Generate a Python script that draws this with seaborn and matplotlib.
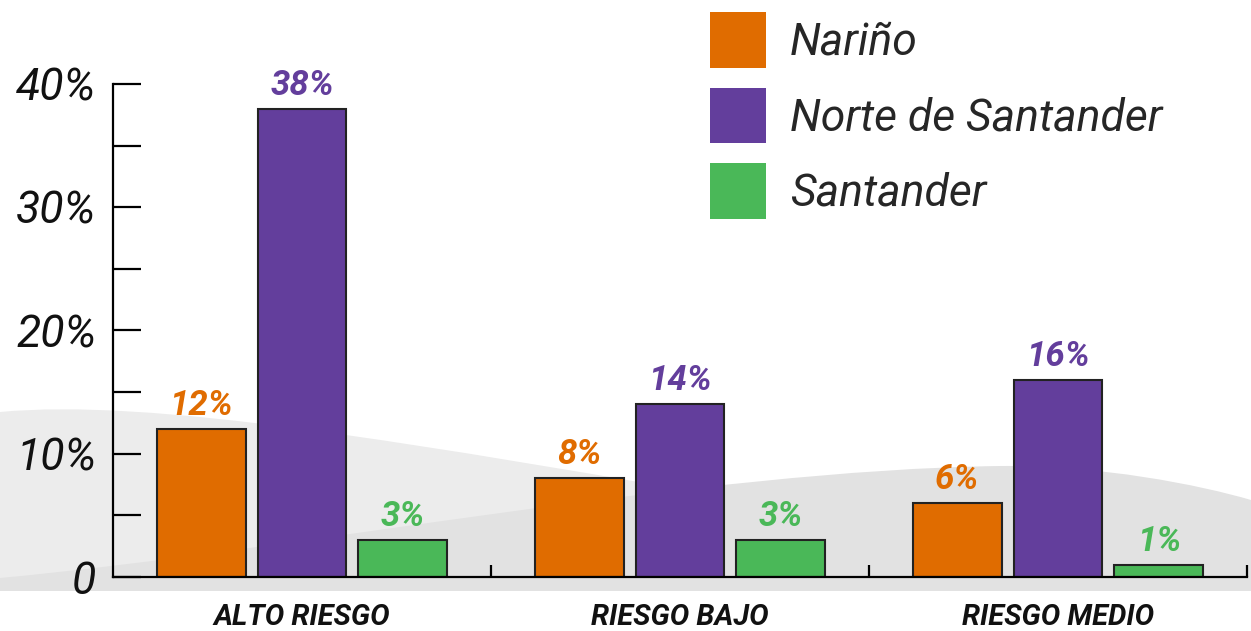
import numpy as np
import pandas as pd
import seaborn as sns
import matplotlib.pyplot as plt
from matplotlib.path import Path
from matplotlib.patches import PathPatch, Patch
from matplotlib.ticker import FixedLocator

# data
categories = ["ALTO RIESGO", "RIESGO BAJO", "RIESGO MEDIO"]
regions = ["Nariño", "Norte de Santander", "Santander"]
narino = [12, 8, 6]
norte = [38, 14, 16]
santander = [3, 3, 1]
colors = ["#E06C00", "#633E9C", "#4AB858"]

df = pd.DataFrame({
    "categoria": categories * 3,
    "region": [regions[0]] * 3 + [regions[1]] * 3 + [regions[2]] * 3,
    "valor": narino + norte + santander,
})

sns.set_theme(style="white")
plt.rcParams['font.family'] = ['Roboto', 'DejaVu Sans']

W, H = 1251, 631
fig = plt.figure(figsize=(W / 100, H / 100), dpi=100)

# decorative grey hills behind the chart (pixel coords)
bg = fig.add_axes([0, 0, 1, 1], zorder=0)
bg.set_xlim(0, W)
bg.set_ylim(H, 0)
bg.axis("off")
light = Path(
    [(0, 591), (0, 412), (150, 398), (400, 440), (800, 510),
     (1000, 540), (1150, 555), (1251, 560), (1251, 591), (0, 591)],
    [Path.MOVETO, Path.LINETO, Path.CURVE4, Path.CURVE4, Path.CURVE4,
     Path.CURVE4, Path.CURVE4, Path.CURVE4, Path.LINETO, Path.CLOSEPOLY])
dark = Path(
    [(0, 591), (0, 578), (300, 550), (700, 470), (1000, 466),
     (1100, 465), (1200, 485), (1251, 500), (1251, 591), (0, 591)],
    [Path.MOVETO, Path.LINETO, Path.CURVE4, Path.CURVE4, Path.CURVE4,
     Path.CURVE4, Path.CURVE4, Path.CURVE4, Path.LINETO, Path.CLOSEPOLY])
bg.add_patch(PathPatch(light, facecolor="#ECECEC", edgecolor="none"))
bg.add_patch(PathPatch(dark, facecolor="#E2E2E2", edgecolor="none"))

ax = fig.add_axes([113 / W, 1 - 577 / H, (1247 - 113) / W, (577 - 10) / H], zorder=1)
ax.set_facecolor("none")

sns.barplot(data=df, x="categoria", y="valor", hue="region", order=categories,
            hue_order=regions, palette=colors, width=0.8, gap=0.12,
            edgecolor="#222222", linewidth=1.5, saturation=1, legend=False, ax=ax)

for cont, col in zip(ax.containers, colors):
    ax.bar_label(cont, labels=[f"{v:.0f}%" for v in cont.datavalues], padding=5,
                 color=col, fontsize=25, fontweight="bold", fontstyle="italic")

ax.set_xlim(-0.5, 2.5)
ax.set_ylim(0, 46)
ax.set_xlabel("")
ax.set_ylabel("")

sns.despine(ax=ax)
for s in ["left", "bottom"]:
    ax.spines[s].set_linewidth(1.6)
    ax.spines[s].set_color("black")
ax.spines["left"].set_bounds(0, 40)

ax.yaxis.set_major_locator(FixedLocator([0, 10, 20, 30, 40]))
ax.yaxis.set_minor_locator(FixedLocator([5, 15, 25, 35]))
ax.set_yticklabels(["0", "10%", "20%", "30%", "40%"])
ax.tick_params(axis="y", which="both", direction="in", length=20, width=1.6,
               color="black", left=True, pad=12)
ax.tick_params(axis="y", which="major", labelsize=32, labelcolor="#111111")
for t in ax.get_yticklabels():
    t.set_fontstyle("italic")

ax.xaxis.set_minor_locator(FixedLocator([0.5, 1.5, 2.5]))
ax.tick_params(axis="x", which="minor", direction="in", length=9, width=1.6,
               color="black", bottom=True)
ax.tick_params(axis="x", which="major", length=0, pad=19, labelsize=21,
               labelcolor="#111111")
for t in ax.get_xticklabels():
    t.set_fontstyle("italic")
    t.set_fontweight("bold")

handles = [Patch(facecolor=c, edgecolor="none") for c in colors]
ax.legend(handles, regions, loc="upper left", bbox_to_anchor=(710 / W, 1 - 12 / H),
          bbox_transform=fig.transFigure, frameon=False, borderpad=0,
          borderaxespad=0, handlelength=1.26, handleheight=1.56,
          handletextpad=0.54, labelspacing=0.44,
          prop={"size": 32, "style": "italic"})

fig.savefig("out.png", dpi=100)
